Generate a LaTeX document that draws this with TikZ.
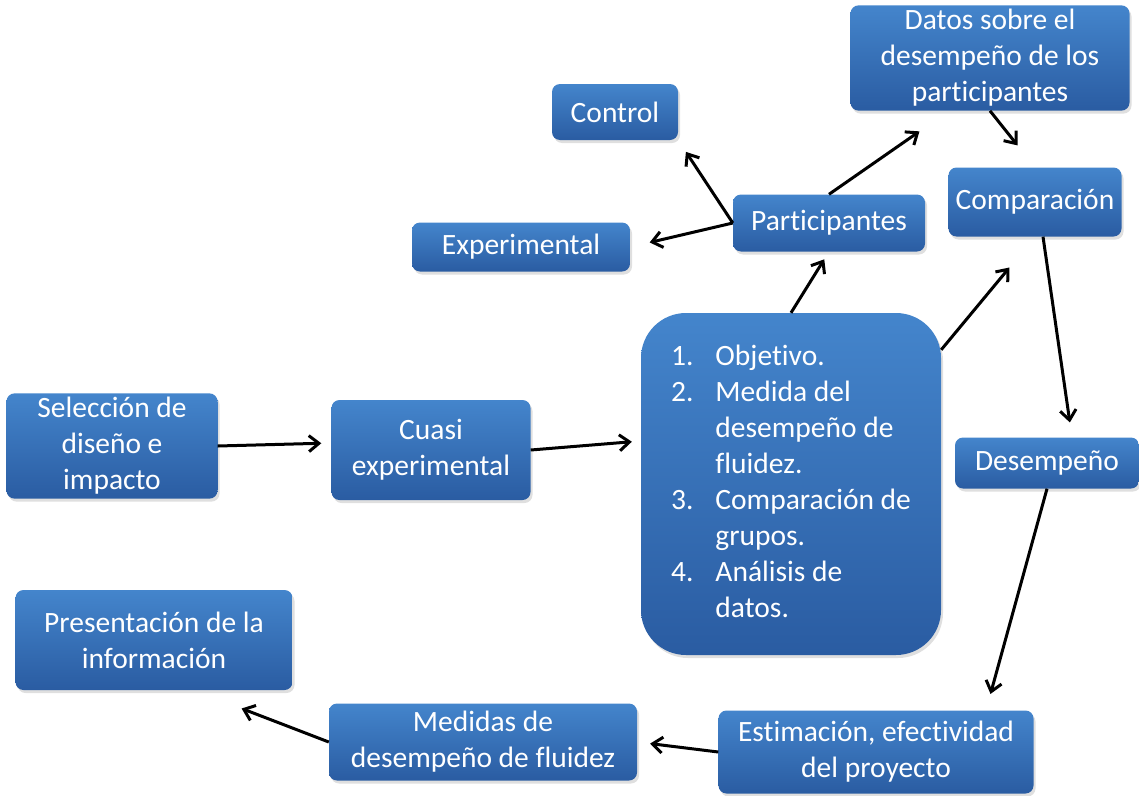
\documentclass[tikz,border=0pt]{standalone}
\usepackage{fontspec}
\setmainfont[Ligatures=NoCommon]{Carlito}
\usetikzlibrary{arrows.meta,shadows}

\definecolor{boxtop}{RGB}{68,133,204}
\definecolor{boxbot}{RGB}{42,92,162}

\begin{document}
\begin{tikzpicture}[
    x=1pt,y=-1pt,
    >={Straight Barb[length=10pt,width=16pt]},
    box/.style={rectangle,rounded corners=8pt,top color=boxtop,bottom color=boxbot,
        text=white,align=center,inner sep=4pt,font=\fontsize{29.5}{36}\selectfont,
        drop shadow={opacity=0.25,shadow xshift=2pt,shadow yshift=-3pt}},
    arr/.style={->,line width=3pt,black}
]
    \useasboundingbox (0,0) rectangle (1139,795);

    % Boxes
    \node[box,minimum width=126,minimum height=56] (ctrl) at (615,112) {Control};
    \node[box,minimum width=279,minimum height=103] (datos) at (990,58) {Datos sobre el\\desempeño de los\\participantes};
    \node[box,minimum width=173,minimum height=69] (comp) at (1035,202) {Comparación};
    \node[box,minimum width=192,minimum height=57] (part) at (829,223) {Participantes};
    \node[box,minimum width=218,minimum height=49] (exp) at (521,247) {Experimental};
    \node[box,minimum width=300,minimum height=342,rounded corners=45pt] (big) at (791,484) {%
        \begin{tabular}{@{}l@{\hspace{22pt}}l@{}}
        1. & Objetivo.\\
        2. & Medida del\\
           & desempeño de\\
           & fluidez.\\
        3. & Comparación de\\
           & grupos.\\
        4. & Análisis de\\
           & datos.
        \end{tabular}};
    \node[box,minimum width=211,minimum height=103] (sel) at (112,446) {Selección de\\diseño e\\impacto};
    \node[box,minimum width=199,minimum height=100] (cuasi) at (431,450) {Cuasi\\experimental};
    \node[box,minimum width=184,minimum height=51] (desemp) at (1047,463) {Desempeño};
    \node[box,minimum width=277,minimum height=100] (pres) at (154,640) {Presentación de la\\información};
    \node[box,minimum width=308,minimum height=77] (med) at (483,742) {Medidas de\\desempeño de fluidez};
    \node[box,minimum width=315,minimum height=83] (est) at (876,752) {Estimación, efectividad\\del proyecto};

    % Arrows
    \draw[arr,shorten >=10pt] (sel.east) -- ([yshift=7pt]cuasi.west);
    \draw[arr,shorten >=9pt] (cuasi.east) -- ([yshift=43pt]big.west);
    \draw[arr,shorten >=9pt] (big.north) -- (part.south);
    \draw[arr,shorten >=14pt] (part.west) -- (ctrl.south east);
    \draw[arr,shorten >=20pt] (part.west) -- (exp.east);
    \draw[arr,shorten >=36pt] (part.north) -- ([xshift=-41pt]datos.south);
    \draw[arr,shorten >=28pt] (datos.south) -- (comp.north);
    \draw[arr,shorten >=40pt] ([yshift=-37pt]big.north east) -- (comp.south);
    \draw[arr,shorten >=15pt] ([xshift=8pt]comp.south) -- ([xshift=25pt]desemp.north);
    \draw[arr,shorten >=17pt] (desemp.south) -- ([xshift=110pt]est.north);
    \draw[arr,shorten >=13pt] (est.west) -- (med.east);
    \draw[arr,shorten >=51pt] (med.west) -- ([xshift=40pt]pres.south);
\end{tikzpicture}
\end{document}
